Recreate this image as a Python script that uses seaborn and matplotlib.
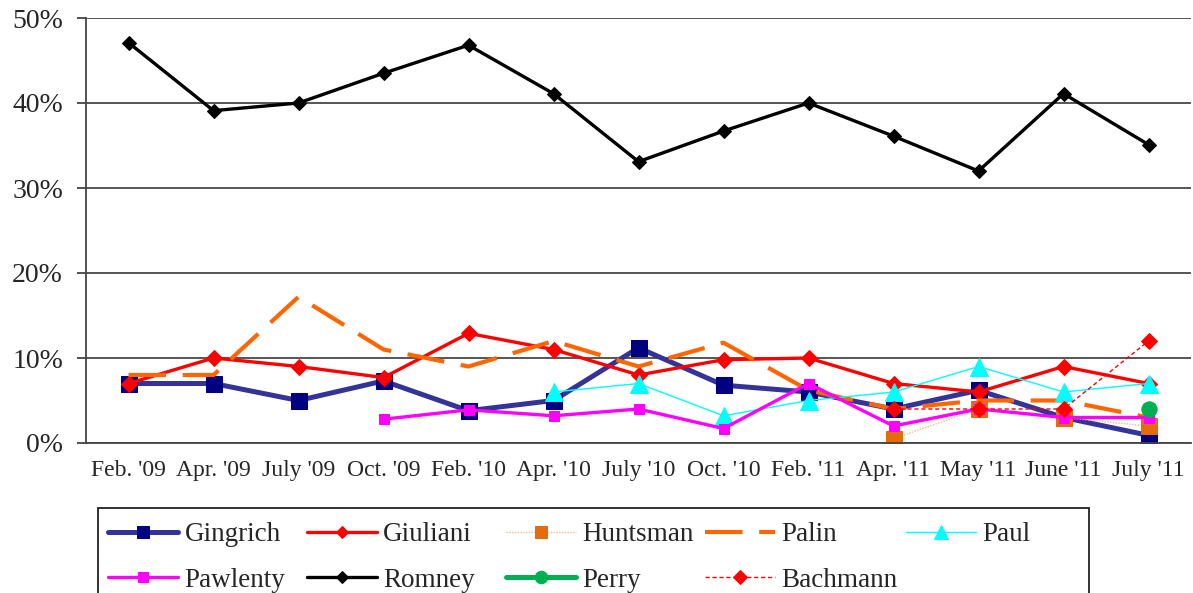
import numpy as np
import pandas as pd
import matplotlib
matplotlib.use("Agg")
import matplotlib.pyplot as plt
from matplotlib.patches import Rectangle
from matplotlib.ticker import FixedLocator, FuncFormatter
import seaborn as sns

nan = np.nan

# poll dates
dates = ["Feb. '09", "Apr. '09", "July '09", "Oct. '09", "Feb. '10", "Apr. '10",
         "July '10", "Oct. '10", "Feb. '11", "Apr. '11", "May '11", "June '11", "July '11"]

# support in percent
gingrich = [7, 7, 5, 7.3, 3.8, 5, 11.2, 6.8, 6, 4, 6.2, 3, 0.9]
giuliani = [7, 10, 9, 7.7, 12.9, 11, 8, 9.8, 10, 7, 6, 9, 7]
huntsman = [nan, nan, nan, nan, nan, nan, nan, nan, nan, 0.5, 4, 3, 2]
palin = [8, 8, 17.2, 11, 9, 12, 9, 11.8, 6.2, 4, 5, 5, 3]
paul = [nan, nan, nan, nan, nan, 6, 7, 3.2, 5, 6, 9, 6, 7]
pawlenty = [nan, nan, nan, 2.8, 3.9, 3.2, 4, 1.7, 7, 2, 4, 3, 3]
romney = [47.1, 39.1, 40, 43.5, 46.8, 41.1, 33.1, 36.7, 40, 36.1, 32, 41.1, 35.1]
perry = [nan, nan, nan, nan, nan, nan, nan, nan, nan, nan, nan, nan, 4]
bachmann = [nan, nan, nan, nan, nan, nan, nan, nan, nan, 4, 4, 4, 12]

sns.set_style("white")
plt.rcParams["font.family"] = ["Liberation Serif", "DejaVu Serif"]

W, H = 1193, 593
fig = plt.figure(figsize=(W / 100, H / 100), dpi=100)
ax = fig.add_axes([86 / W, 1 - 443 / H, 1105 / W, 425 / H])

x = np.arange(len(dates))

# series styles (Excel-like); last item is the marker size used in the legend
series = [
    ("Gingrich", gingrich, dict(color="#333399", lw=3.6, marker="s", ms=11.5,
                                mfc="#000080", mec="#000080"), 8.5),
    ("Giuliani", giuliani, dict(color="#ff0000", lw=2.4, marker="D", ms=8.5,
                                mfc="#ff0000", mec="#ff0000"), 6.5),
    ("Huntsman", huntsman, dict(color="#f5b889", lw=1.0, ls=(0, (1, 1)), marker="s", ms=11,
                                mfc="#e46c0a", mec="#e46c0a"), 8.5),
    ("Palin", palin, dict(color="#ff6600", lw=3.0, ls=(0, (9, 4)), marker="none"), 0),
    ("Paul", paul, dict(color="#00ffff", lw=1.0, marker="^", ms=13,
                        mfc="#00ffff", mec="#00ffff"), 10),
    ("Pawlenty", pawlenty, dict(color="#ff00ff", lw=2.4, marker="s", ms=7.5,
                                mfc="#ff00ff", mec="#ff00ff"), 6.5),
    ("Romney", romney, dict(color="#000000", lw=2.4, marker="D", ms=7,
                            mfc="#000000", mec="#000000"), 6.5),
    ("Perry", perry, dict(color="#00b050", lw=3.6, marker="o", ms=11,
                          mfc="#00b050", mec="#00b050"), 9),
    ("Bachmann", bachmann, dict(color="#ff0000", lw=1.0, ls=(0, (3, 2)), marker="D", ms=8.5,
                                mfc="#ff0000", mec="#ff0000"), 7),
]

handles = {}
for name, vals, st, _ in series:
    df = pd.DataFrame({"x": x, "y": vals}).dropna()
    sns.lineplot(data=df, x="x", y="y", ax=ax, label=name, **st)
    handles[name] = ax.get_lines()[-1]

if ax.get_legend() is not None:
    ax.get_legend().remove()

ax.set_xlim(-0.5, len(dates) - 0.5)
ax.set_ylim(0, 50)
ax.set_xlabel("")
ax.set_ylabel("")

ax.set_yticks(np.arange(0, 51, 10))
ax.yaxis.set_major_formatter(FuncFormatter(lambda v, p: f"{v:.0f}%"))
ax.set_xticks(x)
ax.set_xticklabels(dates)
ax.xaxis.set_minor_locator(FixedLocator(np.arange(-0.5, len(dates), 1)))

ax.grid(axis="y", color="#555555", lw=1.4)
ax.set_axisbelow(True)
for s in ["top", "right"]:
    ax.spines[s].set_visible(False)
for s in ["left", "bottom"]:
    ax.spines[s].set_color("#444444")
    ax.spines[s].set_linewidth(1.3)

ax.tick_params(axis="x", which="major", length=0, pad=12, labelsize=17)
ax.tick_params(axis="x", which="minor", length=6, width=1.3, color="#444444", direction="out")
ax.tick_params(axis="y", length=6.5, width=1.3, color="#444444", direction="out",
               pad=10, labelsize=20, left=True)

# legend: Excel lays it out in equal-width columns, so one legend per column
leg_ms = {s[0]: s[3] for s in series}
columns = [["Gingrich", "Pawlenty"], ["Giuliani", "Romney"], ["Huntsman", "Perry"],
           ["Palin", "Bachmann"], ["Paul"]]
col_x = [108, 307, 506, 705, 906]
for names, cx in zip(columns, col_x):
    leg = fig.legend([handles[n] for n in names], names, loc="upper left",
                     bbox_to_anchor=(cx / W, 1 - 522 / H), frameon=False,
                     fontsize=19.5, handlelength=2.6, handletextpad=0.22,
                     borderpad=0, borderaxespad=0, labelspacing=0.76, numpoints=1)
    for ln, n in zip(leg.get_lines(), names):
        ln.set_markersize(leg_ms[n])

fig.add_artist(Rectangle((98 / W, -0.05), 991 / W, 0.05 + 1 - 508 / H,
                         transform=fig.transFigure, fill=False,
                         edgecolor="#222222", lw=1.3, clip_on=False))

fig.savefig("out.png", dpi=100)
